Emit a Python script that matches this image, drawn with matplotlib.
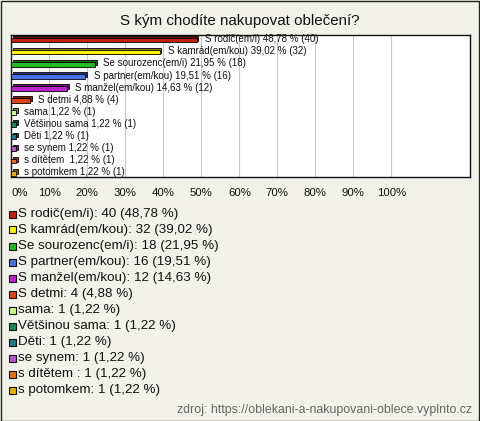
import matplotlib.pyplot as plt
from matplotlib.patches import Rectangle
from matplotlib.transforms import ScaledTranslation

categories = ['S rodič(em/i)', 'S kamrád(em/kou)', 'Se sourozenc(em/i)', 'S partner(em/kou)',
              'S manžel(em/kou)', 'S detmi', 'sama', 'Většinou sama', 'Děti', 'se synem',
              's dítětem ', 's potomkem']
counts = [40, 32, 18, 16, 12, 4, 1, 1, 1, 1, 1, 1]
percents = [48.78, 39.02, 21.95, 19.51, 14.63, 4.88, 1.22, 1.22, 1.22, 1.22, 1.22, 1.22]
colors = ['#c4200e', '#fff000', '#22bb22', '#4a6fe8', '#bb22cc', '#dd4412',
          '#ccff88', '#118855', '#1f7a8c', '#bb55cc', '#e87010', '#e8b000']
xticks = [0, 10, 20, 30, 40, 50, 60, 70, 80, 90, 100]


def fmt(v):
    return f"{v:.2f}".replace('.', ',')


def darker(c, f=0.55):
    c = c.lstrip('#')
    r, g, b = (int(c[i:i + 2], 16) / 255 for i in (0, 2, 4))
    return (r * f, g * f, b * f)


W, H = 480, 421
fig = plt.figure(figsize=(W / 100, H / 100), dpi=100)
fig.patch.set_facecolor('#f3f2ea')
plt.rcParams['font.family'] = ['Liberation Sans', 'DejaVu Sans']

# outer frame
fig.add_artist(Rectangle((0.5 / W, 0.5 / H), 1 - 1.5 / W, 1 - 1.5 / H, transform=fig.transFigure,
                         fill=False, edgecolor='#222222', linewidth=1))

fig.text(0.5, 1 - 21 / H, 'S kým chodíte nakupovat oblečení?', ha='center', va='center',
         fontsize=10.9, color='#111111')

left, right, top, bottom = 11.3, 470, 35, 177
ax = fig.add_axes([left / W, 1 - bottom / H, (right - left) / W, (bottom - top) / H])
ax.set_facecolor('white')
ax.set_xlim(0, 120.7)
ax.set_ylim(11.32, -0.41)
ax.set_xticks(xticks)
ax.set_xticklabels([f"{t}%" for t in xticks], fontsize=8.2, color='#111111')
ax.get_xticklabels()[0].set_horizontalalignment('left')
ax.tick_params(axis='x', length=0, pad=8)
ax.set_yticks([])
ax.grid(axis='x', color='#c8c8c8', linewidth=0.8)
ax.set_axisbelow(True)
for s in ax.spines.values():
    s.set_color('#111111')
    s.set_linewidth(1)

ys = list(range(len(categories)))
shift = ScaledTranslation(1.8 / 100, 1.8 / 100, fig.dpi_scale_trans)
shadow = ax.barh(ys, percents, height=0.40, color=[darker(c) for c in colors],
                 edgecolor='black', linewidth=0.6, zorder=2)
for b in shadow:
    b.set_transform(ax.transData + shift)
ax.barh(ys, percents, height=0.40, color=colors, edgecolor='black', linewidth=0.6, zorder=3)

for y, cat, p, n in zip(ys, categories, percents, counts):
    ax.annotate(f"{cat} {fmt(p)} % ({n})", (p, y), xytext=(6, 0.5), textcoords='offset points',
                va='center', ha='left', fontsize=7.0, color='#111111', zorder=4)

# legend
for i, (cat, n, p, c) in enumerate(zip(categories, counts, percents, colors)):
    yc = 214 + i * 16.0
    fig.add_artist(Rectangle((9 / W, 1 - (yc + 3.5) / H), 7 / W, 7 / H, transform=fig.transFigure,
                             facecolor=c, edgecolor='#111111', linewidth=0.8))
    fig.text(17.5 / W, 1 - yc / H, f"{cat}: {n} ({fmt(p)} %)", ha='left', va='center',
             fontsize=9.6, color='#111111')

fig.text(472 / W, 1 - 410 / H, 'zdroj: https://oblekani-a-nakupovani-oblece.vyplnto.cz',
         ha='right', va='center', fontsize=8.9, color='#666666')

fig.savefig('out.png', dpi=100, facecolor=fig.get_facecolor())
